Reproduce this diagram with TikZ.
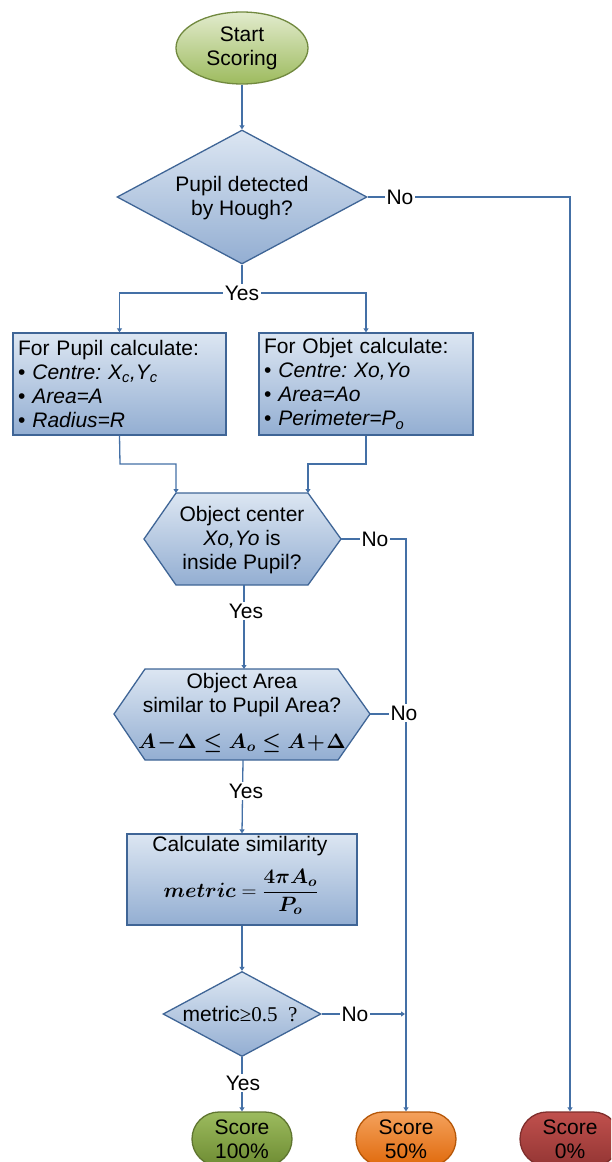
\documentclass[tikz,border=0pt]{standalone}
\usepackage{amsmath}
\usepackage[no-math]{fontspec}
\setmainfont{Liberation Sans}
\newfontfamily\myserif{Liberation Serif}
\usetikzlibrary{shapes.geometric,shapes.misc,arrows.meta}
\frenchspacing
\definecolor{lineblue}{HTML}{4470A6}
\definecolor{boxtop}{HTML}{DCE6F2}
\definecolor{boxbot}{HTML}{93AED2}
\definecolor{boxdraw}{HTML}{3F6596}
\definecolor{startTop}{HTML}{E2EBCD}
\definecolor{startBot}{HTML}{9DBB5E}
\definecolor{startDraw}{HTML}{71893F}
\definecolor{gTop}{HTML}{9CBB5E}
\definecolor{gBot}{HTML}{6E8C33}
\definecolor{gDraw}{HTML}{5F7530}
\definecolor{oTop}{HTML}{F4A15C}
\definecolor{oBot}{HTML}{E06A0C}
\definecolor{oDraw}{HTML}{B65708}
\definecolor{rTop}{HTML}{C0504D}
\definecolor{rBot}{HTML}{943634}
\definecolor{rDraw}{HTML}{7F2E2C}
\newcommand\myfs{\fontsize{21}{24}\selectfont}
\newcommand\myMathSize{\fontsize{21.5}{26}\selectfont}
\tikzset{
  conn/.style={draw=lineblue, line width=1.3pt},
  arr/.style={conn, -{Triangle[width=5pt,length=4pt]}},
  bluefill/.style={top color=boxtop, bottom color=boxbot, draw=boxdraw, line width=1.3pt},
  lbl/.style={fill=white, inner sep=2pt, font=\myfs},
  txt/.style={font=\myfs, align=center, inner sep=0pt},
  mth/.style={inner sep=0pt, font=\myMathSize},
  listbox/.style={bluefill, rectangle, minimum height=102, inner xsep=5pt, inner ysep=0pt, font=\myfs, align=left},
  score/.style={rounded rectangle, minimum width=100, minimum height=54, line width=1.3pt, font=\myfs, align=center, inner sep=0pt},
}
\begin{document}
\begin{tikzpicture}[x=1pt,y=-1pt]
\useasboundingbox (0,0) rectangle (611,1162);
\clip (0,0) rectangle (611,1162);

% start
\node[ellipse, minimum width=132, minimum height=72, inner sep=0, top color=startTop, bottom color=startBot, draw=startDraw, line width=1.3pt, font=\myfs, align=center] (start) at (242,48) {Start\\Scoring};

% decision 1
\node[diamond, minimum width=250, minimum height=134, inner sep=0, bluefill] (d1) at (242,197) {};
\node[txt] (d1t) at (242,198) {Pupil detected\\by Hough?};

% boxes
\node[listbox, text width=203] (b1) at (119.5,384) {For Pupil calculate:\\
  \textbullet\ \textit{Centre: X\textsubscript{c},Y\textsubscript{c}}\\
  \textbullet\ \textit{Area=A}\\
  \textbullet\ \textit{Radius=R}};
\node[listbox, text width=204] (b2) at (366,384) {For Objet calculate:\\
  \textbullet\ \textit{Centre: Xo,Yo}\\
  \textbullet\ \textit{Area=Ao}\\
  \textbullet\ \textit{Perimeter=P\textsubscript{o}}};

% hexagon 1
\coordinate (h1w) at (144,539);
\coordinate (h1nw) at (176,493);
\coordinate (h1ne) at (308,493);
\coordinate (h1e) at (341,539);
\coordinate (h1se) at (308,585);
\coordinate (h1sw) at (176,585);
\coordinate (h1s) at (244,585);
\path[bluefill] (h1w) -- (h1nw) -- (h1ne) -- (h1e) -- (h1se) -- (h1sw) -- cycle;
\node[txt] (h1t) at (242,540) {Object center\\\textit{Xo,Yo} is\\inside Pupil?};

% hexagon 2
\coordinate (h2w) at (114,714);
\coordinate (h2nw) at (145,669);
\coordinate (h2n) at (244,669);
\coordinate (h2ne) at (338,669);
\coordinate (h2e) at (370,714);
\coordinate (h2se) at (338,760);
\coordinate (h2s) at (243,760);
\coordinate (h2sw) at (145,760);
\path[bluefill] (h2w) -- (h2nw) -- (h2ne) -- (h2e) -- (h2se) -- (h2sw) -- cycle;
\node[txt] (h2t) at (242,695) {Object Area\\similar to Pupil Area?};
\node[mth] (h2f) at (242,743) {$\boldsymbol{A\!-\!\Delta\le A_{o}\le A\!+\!\Delta}$};

% box 3
\node[bluefill, rectangle, minimum width=230, minimum height=91, inner sep=0] (b3) at (242,879.5) {};
\node[txt] (b3t) at (240,846) {Calculate similarity};
\node[mth] (b3f) at (241,892) {$\displaystyle \boldsymbol{metric}=\frac{\boldsymbol{4\pi A_{o}}}{\boldsymbol{P_{o}}}$};

% decision 2
\node[diamond, minimum width=158, minimum height=85, inner sep=0, bluefill] (d2) at (242,1014) {};
\node[txt] (d2t) at (240,1014) {metric{\myserif ≥0.5\ \ ?}};

% scores
\node[score, top color=gTop, bottom color=gBot, draw=gDraw] (s100) at (242,1139) {Score\\100\%};
\node[score, top color=oTop, bottom color=oBot, draw=oDraw] (s50) at (406,1139) {Score\\50\%};
\node[score, top color=rTop, bottom color=rBot, draw=rDraw] (s0) at (570,1139) {Score\\0\%};

% connectors
\draw[arr] (start.south) -- (d1.north);
\coordinate (yj) at (242,293);
\draw[conn] (d1.south) -- (yj);
\draw[arr] (yj) -| (b1.north);
\draw[arr] (yj) -| (b2.north);
\node[lbl] (yes1) at (yj) {Yes};

\coordinate (r0) at (570,197);
\draw[arr] (d1.east) -- (r0) -- (s0.north);
\node[lbl] (no1) at (400,197) {No};

\coordinate (j1) at (120,464);
\coordinate (j1b) at (176,464);
\coordinate (j2) at (366,464);
\coordinate (j2b) at (308,464);
\draw[arr] (b1.south) -- (j1) -- (j1b) -- (h1nw);
\draw[arr] (b2.south) -- (j2) -- (j2b) -- (h1ne);

\coordinate (r50) at (406,539);
\draw[arr] (h1e) -- (r50) -- (s50.north);
\node[lbl] (no2) at (375,539) {No};

\draw[arr] (h1s) -- (h2n);
\node[lbl] (yes2) at (246,611) {Yes};

\coordinate (r50b) at (406,714);
\draw[conn] (h2e) -- (r50b);
\node[lbl] (no3) at (404,713) {No};

\draw[arr] (h2s) -- (b3.north);
\node[lbl] (yes3) at (246,791) {Yes};

\draw[arr] (b3.south) -- (d2.north);

\coordinate (r50c) at (405,1014);
\draw[arr] (d2.east) -- (r50c);
\node[lbl] (no4) at (355,1014) {No};

\draw[arr] (d2.south) -- (s100.north);
\node[lbl] (yes4) at (243,1083) {Yes};
\end{tikzpicture}
\end{document}
